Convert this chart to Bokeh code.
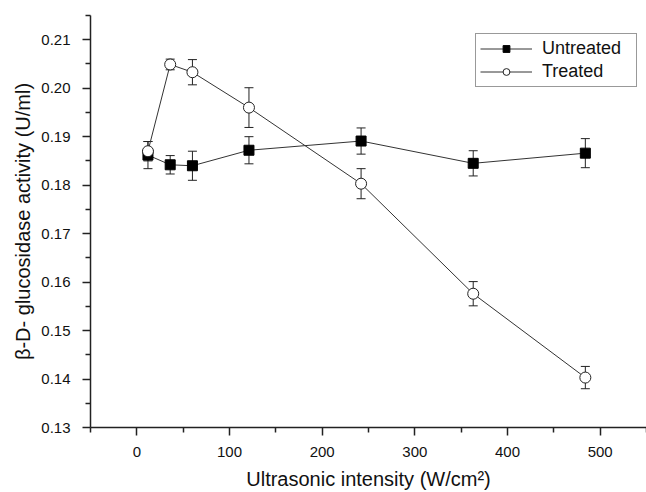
from bokeh.plotting import figure
from bokeh.models import (ColumnDataSource, Whisker, TeeHead, Legend, LegendItem,
                          FixedTicker, PrintfTickFormatter, Range1d)
from bokeh.embed import file_html
from bokeh.resources import INLINE

# ---- data ----
intensity = [12, 36, 60, 121, 242, 363, 484]
untreated = [0.1862, 0.1842, 0.1840, 0.1872, 0.1891, 0.1845, 0.1866]
untreated_err = [0.0028, 0.0019, 0.0030, 0.0028, 0.0027, 0.0026, 0.0030]
treated = [0.1870, 0.2049, 0.2033, 0.1960, 0.1803, 0.1576, 0.1403]
treated_err = [0.0020, 0.0011, 0.0026, 0.0041, 0.0031, 0.0025, 0.0023]
x_ticks = [0, 100, 200, 300, 400, 500]
x_minor = [-50, 50, 150, 250, 350, 450, 550]
y_ticks = [0.13, 0.14, 0.15, 0.16, 0.17, 0.18, 0.19, 0.20, 0.21]
y_minor = [0.135, 0.145, 0.155, 0.165, 0.175, 0.185, 0.195, 0.205, 0.215]

FONT = "Liberation Sans"

p = figure(width=646, height=492, output_backend="svg", toolbar_location=None,
           x_range=Range1d(-50, 550), y_range=Range1d(0.13, 0.215),
           min_border_left=90, min_border_right=0, min_border_top=15,
           min_border_bottom=64)
p.outline_line_color = None
p.xgrid.visible = False
p.ygrid.visible = False
p.background_fill_color = "white"
p.border_fill_color = "white"

for ax in (p.xaxis[0], p.yaxis[0]):
    ax.axis_line_color = "#222222"
    ax.axis_line_width = 1.5
    ax.major_tick_line_color = "#222222"
    ax.major_tick_line_width = 1.5
    ax.minor_tick_line_color = "#222222"
    ax.minor_tick_line_width = 1.5
    ax.major_tick_in = 0
    ax.major_tick_out = 8
    ax.minor_tick_in = 0
    ax.minor_tick_out = 5
    ax.major_label_text_font = FONT
    ax.major_label_text_font_size = "15px"
    ax.major_label_text_color = "#111111"
    ax.axis_label_text_font = FONT
    ax.axis_label_text_font_size = "20px"
    ax.axis_label_text_font_style = "normal"
    ax.axis_label_text_color = "#111111"

p.xaxis.ticker = FixedTicker(ticks=x_ticks, minor_ticks=x_minor)
p.yaxis.ticker = FixedTicker(ticks=y_ticks, minor_ticks=y_minor)
p.yaxis.formatter = PrintfTickFormatter(format="%.2f")
p.xaxis.major_label_standoff = 11
p.yaxis.major_label_standoff = 12
p.xaxis.axis_label = "Ultrasonic intensity (W/cm²)"
p.yaxis.axis_label = "β-D- glucosidase activity (U/ml)"
p.xaxis.axis_label_standoff = 8
p.yaxis.axis_label_standoff = 4

src_u = ColumnDataSource(dict(
    x=intensity, y=untreated,
    upper=[v + e for v, e in zip(untreated, untreated_err)],
    lower=[v - e for v, e in zip(untreated, untreated_err)]))
src_t = ColumnDataSource(dict(
    x=intensity, y=treated,
    upper=[v + e for v, e in zip(treated, treated_err)],
    lower=[v - e for v, e in zip(treated, treated_err)]))

for src in (src_u, src_t):
    w = Whisker(base="x", upper="upper", lower="lower", source=src,
                line_color="#222222", line_width=1,
                upper_head=TeeHead(size=9, line_color="#222222", line_width=1),
                lower_head=TeeHead(size=9, line_color="#222222", line_width=1))
    p.add_layout(w)

lu = p.line("x", "y", source=src_u, line_color="#333333", line_width=1)
su = p.scatter("x", "y", source=src_u, marker="square", size=10,
               fill_color="black", line_color="black")
lt = p.line("x", "y", source=src_t, line_color="#333333", line_width=1)
st = p.scatter("x", "y", source=src_t, marker="circle", size=11,
               fill_color="white", line_color="#222222", line_width=1)

legend = Legend(items=[LegendItem(label="Untreated", renderers=[lu, su]),
                       LegendItem(label="Treated", renderers=[lt, st])],
                location=(385, 340))
legend.label_text_font = FONT
legend.label_text_font_size = "18px"
legend.label_text_color = "#111111"
legend.border_line_color = "#333333"
legend.border_line_width = 1
legend.glyph_width = 52
legend.glyph_height = 17
legend.label_height = 17
legend.label_width = 90
legend.label_standoff = 10
legend.padding = 4
legend.spacing = 2
legend.margin = 0
p.add_layout(legend)

open("out.html", "w").write(file_html(p, INLINE))
